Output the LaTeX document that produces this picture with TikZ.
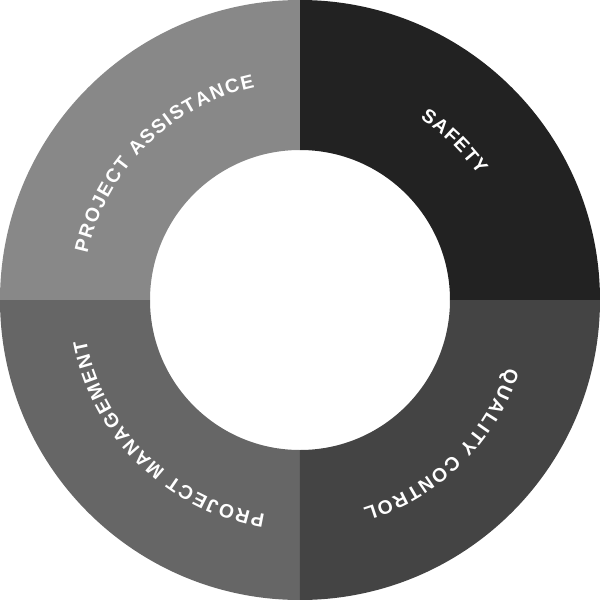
\documentclass[tikz,border=0pt]{standalone}
\usepackage{fontspec}
\usetikzlibrary{decorations.text}
\newfontfamily\ringfont{Liberation Sans}
\newcommand{\ringlabelfont}{\ringfont\bfseries\fontsize{11}{13}\selectfont}
\definecolor{quadNE}{HTML}{222222}
\definecolor{quadNW}{HTML}{888888}
\definecolor{quadSW}{HTML}{666666}
\definecolor{quadSE}{HTML}{444444}
\tikzset{
  ring label/.style={decorate, decoration={text along path, text align=fit to path,
      text color=white, text={|\ringlabelfont|#1}}}
}

\begin{document}
\begin{tikzpicture}
  \useasboundingbox (-6,-6) rectangle (6,6);
  \def\rin{3}      % inner radius
  \def\rout{6}     % outer radius
  \def\rtxt{4.35}  % baseline of the labels
  % the four quarters of the ring
  \foreach \s/\col in {0/quadNE, 90/quadNW, 180/quadSW, 270/quadSE}
    \fill[\col] (\s:\rin) arc[start angle=\s, end angle=\s+90, radius=\rin]
      -- (\s+90:\rout) arc[start angle=\s+90, end angle=\s, radius=\rout] -- cycle;
  % labels, all running clockwise
  \path[ring label=SAFETY] (56.5:\rtxt) arc[start angle=56.5, end angle=35, radius=\rtxt];
  \path[ring label=PROJECT ASSISTANCE] (167.7:\rtxt) arc[start angle=167.7, end angle=102, radius=\rtxt];
  \path[ring label=QUALITY CONTROL] (-18.1:\rtxt) arc[start angle=-18.1, end angle=-73.2, radius=\rtxt];
  \path[ring label=PROJECT MANAGEMENT] (-99.2:\rtxt) arc[start angle=-99.2, end angle=-169.3, radius=\rtxt];
\end{tikzpicture}
\end{document}
